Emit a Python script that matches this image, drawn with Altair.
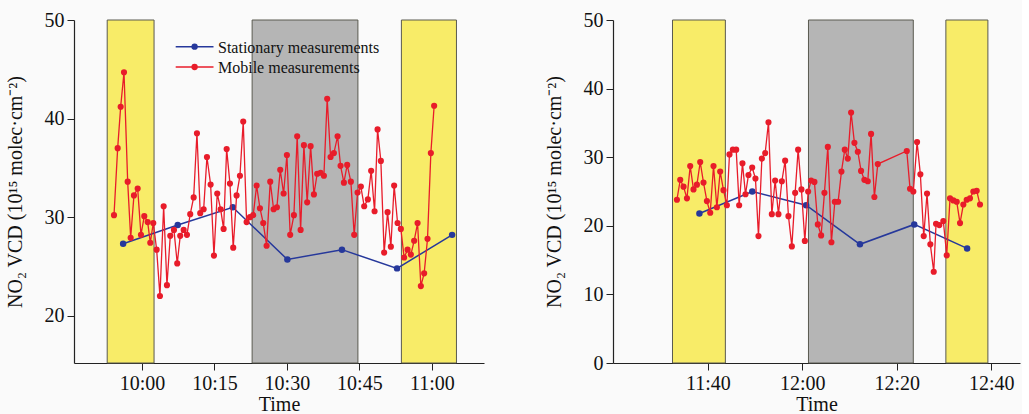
import altair as alt
import pandas as pd

# ---------------- Left panel (times in minutes after 10:00) ----------------
left_mobile_min = [-5.79, -5.03, -4.41, -3.72, -2.96, -2.34, -1.66, -0.89, -0.21, 0.48,
                   1.18, 1.72, 2.34, 3.04, 3.72, 4.49, 5.17, 5.86, 6.62, 7.30,
                   7.92, 8.63, 9.31, 9.99, 10.70, 11.38, 12.06, 12.77, 13.45, 14.21,
                   14.90, 15.58, 16.28, 16.90, 17.53, 18.21, 18.89, 19.59, 20.28, 20.96,
                   21.66, 22.35, 23.03, 23.73, 24.42, 25.10, 25.80, 26.55, 27.25, 27.93,
                   28.62, 29.32, 30.00, 30.68, 31.45, 32.13, 32.84, 33.52, 34.20, 34.91,
                   35.59, 36.27, 36.98, 37.66, 38.34, 39.04, 39.73, 40.49, 41.11, 41.80,
                   42.48, 43.24, 43.93, 44.63, 45.31, 46.00, 46.76, 47.44, 48.15, 48.77,
                   49.45, 50.13, 50.84, 51.52, 52.20, 52.91, 53.59, 54.27, 54.98, 55.66,
                   56.34, 57.05, 57.73, 58.41, 59.11, 59.80, 60.48]
left_mobile_val = [30.2, 37.0, 41.2, 44.7, 33.6, 27.9, 32.2, 32.9, 28.2, 30.1,
                   29.5, 27.4, 29.4, 26.7, 22.0, 31.1, 23.1, 28.1, 28.7, 25.3,
                   28.1, 28.7, 28.2, 30.3, 32.0, 38.5, 30.4, 30.8, 36.1, 33.3,
                   26.1, 32.4, 30.8, 28.8, 36.9, 33.4, 26.9, 32.2, 34.2, 39.7,
                   29.5, 30.0, 30.2, 33.2, 30.9, 29.4, 27.1, 33.6, 30.8, 31.0,
                   34.8, 32.4, 36.3, 28.2, 30.2, 38.2, 28.7, 37.3, 31.5, 37.2,
                   32.3, 34.4, 34.5, 34.2, 42.0, 36.1, 36.5, 38.2, 35.2, 33.5,
                   35.3, 33.6, 28.2, 32.5, 33.1, 31.1, 31.8, 34.7, 30.6, 38.9,
                   35.7, 26.4, 30.5, 27.0, 33.2, 29.4, 28.8, 25.9, 26.7, 26.2,
                   27.6, 29.4, 23.0, 24.3, 27.8, 36.5, 41.3]
left_stat_min = [-3.9, 7.4, 18.8, 30.1, 41.4, 52.8, 64.2]
left_stat_val = [27.3, 29.2, 31.0, 25.7, 26.7, 24.8, 28.2]
left_band_start = [-7.2, 22.8, 53.7]
left_band_end = [2.5, 44.7, 65.1]
left_band_kind = ["yellow", "gray", "yellow"]
left_x_ticks = ["10:00", "10:15", "10:30", "10:45", "11:00"]
left_y_ticks = [20, 30, 40, 50]

# ---------------- Right panel (times in minutes after 11:40) ----------------
right_mobile_min = [-6.56, -5.86, -5.16, -4.44, -3.75, -3.05, -2.33, -1.63, -0.93, -0.21,
                    0.49, 1.19, 1.90, 2.60, 3.30, 4.02, 4.57, 5.29, 5.99, 6.62,
                    7.32, 7.96, 8.59, 9.38, 10.07, 10.71, 11.43, 12.13, 12.83, 13.54,
                    14.24, 14.94, 15.66, 16.36, 17.06, 17.78, 18.48, 19.11, 19.81, 20.53,
                    21.23, 21.86, 22.56, 23.28, 23.98, 24.68, 25.40, 26.16, 26.88, 27.58,
                    28.28, 28.99, 29.63, 30.33, 31.03, 31.75, 32.44, 33.14, 33.86, 34.56,
                    35.26, 35.98, 42.12, 42.81, 43.51, 44.30, 45.00, 45.71, 46.41, 47.11,
                    47.83, 48.32, 49.02, 49.86, 50.58, 51.28, 51.98, 52.70, 53.40, 54.10,
                    54.81, 55.51, 56.22, 56.93, 57.63]
right_mobile_val = [23.8, 26.7, 25.7, 24.0, 28.7, 25.3, 26.0, 29.3, 26.3, 23.6,
                    21.9, 28.7, 22.7, 27.9, 25.2, 23.0, 30.4, 31.1, 31.1, 23.0,
                    29.1, 24.6, 27.4, 28.5, 26.9, 18.5, 29.8, 30.6, 35.1, 21.7,
                    26.6, 21.7, 26.5, 29.5, 21.4, 17.0, 24.8, 31.1, 25.3, 17.8,
                    25.0, 26.6, 26.4, 20.2, 18.6, 24.8, 31.5, 17.6, 23.5, 23.5,
                    27.9, 31.1, 29.8, 36.5, 32.1, 30.8, 28.0, 26.7, 26.5, 33.4,
                    24.2, 29.0, 30.9, 25.4, 25.0, 32.2, 27.5, 18.5, 24.7, 17.3,
                    13.3, 20.3, 20.1, 20.7, 15.7, 24.0, 23.7, 23.5, 20.4, 23.1,
                    23.8, 24.0, 25.0, 25.1, 23.1]
right_stat_min = [-1.8, 9.4, 20.8, 32.2, 43.7, 54.9]
right_stat_val = [21.8, 25.0, 23.0, 17.3, 20.2, 16.7]
right_band_start = [-7.5, 21.3, 50.4]
right_band_end = [3.7, 43.5, 59.3]
right_band_kind = ["yellow", "gray", "yellow"]
right_x_ticks = ["11:40", "12:00", "12:20", "12:40"]
right_y_ticks = [0, 10, 20, 30, 40, 50]

SERIES = ["Stationary measurements", "Mobile measurements"]
BLUE = "#26389b"
RED = "#e81c2a"
FONT = "Liberation Serif"
Y_TITLE = "NO\u2082 VCD (10\u00b9\u2075 molec\u00b7cm\u207b\u00b2)"


def clock(s):
    h, m = s.split(":")
    return int(h) * 60 + int(m)


LABEL_EXPR = ("floor(datum.value / 60) + ':' + (datum.value % 60 < 10 ? '0' : '') "
              "+ (datum.value % 60)")


def legend_layers():
    layers = []
    for i, (name, col) in enumerate(zip(SERIES, [BLUE, RED])):
        ld = pd.DataFrame({"label": [name]})
        yy = 26.7 + 20.3 * i
        base = alt.Chart(ld)
        layers.append(base.mark_rule(color=col, strokeWidth=1.5).encode(
            x=alt.value(101.7), x2=alt.value(139.5), y=alt.value(yy)))
        layers.append(base.mark_point(filled=True, color=col, size=40, opacity=1).encode(
            x=alt.value(120.6), y=alt.value(yy)))
        layers.append(base.mark_text(align="left", baseline="middle", font=FONT,
                                     fontSize=16, color="#111").encode(
            x=alt.value(144), y=alt.value(yy + 1), text="label:N"))
    return layers


def panel(base, mob_t, mob_v, st_t, st_v, bs, be, bk, xdom, xticks, ydom, yticks,
          width, legend):
    mob = pd.DataFrame({"t": [base + m for m in mob_t], "v": mob_v})
    st = pd.DataFrame({"t": [base + m for m in st_t], "v": st_v})
    bands = pd.DataFrame({"s": [base + m for m in bs], "e": [base + m for m in be],
                          "kind": bk, "top": ydom[1], "bottom": ydom[0]})

    xs = alt.Scale(domain=[base + xdom[0], base + xdom[1]], nice=False, zero=False)
    ys = alt.Scale(domain=ydom, nice=False, zero=False)
    xaxis = alt.Axis(values=[clock(t) for t in xticks], labelExpr=LABEL_EXPR,
                     title="Time")
    yaxis = alt.Axis(values=yticks, title=Y_TITLE)

    rect = alt.Chart(bands).mark_rect(stroke="#5a5a50", strokeWidth=1).encode(
        x=alt.X("s:Q", scale=xs, axis=xaxis),
        x2="e:Q",
        y=alt.Y("top:Q", scale=ys, axis=yaxis),
        y2="bottom:Q",
        fill=alt.Fill("kind:N", scale=alt.Scale(domain=["yellow", "gray"],
                                                range=["#f8ec68", "#b5b5b5"]),
                      legend=None),
    )
    x = alt.X("t:Q", scale=xs, axis=xaxis)
    y = alt.Y("v:Q", scale=ys, axis=yaxis)
    st_line = alt.Chart(st).mark_line(strokeWidth=1.5, color=BLUE).encode(x=x, y=y)
    st_pt = alt.Chart(st).mark_point(filled=True, size=42, opacity=1, color=BLUE).encode(
        x=x, y=y)
    mob_line = alt.Chart(mob).mark_line(strokeWidth=1.3, color=RED).encode(x=x, y=y)
    mob_pt = alt.Chart(mob).mark_point(filled=True, size=38, opacity=1, color=RED).encode(
        x=x, y=y)
    layers = [rect, st_line, st_pt, mob_line, mob_pt]
    if legend:
        layers += legend_layers()
    return alt.layer(*layers).properties(width=width, height=343)


left = panel(600, left_mobile_min, left_mobile_val, left_stat_min, left_stat_val,
             left_band_start, left_band_end, left_band_kind, [-14.07, 70.8],
             left_x_ticks, [15.2, 50], left_y_ticks, 410, True)
right = panel(700, right_mobile_min, right_mobile_val, right_stat_min, right_stat_val,
              right_band_start, right_band_end, right_band_kind, [-20.1, 66.1],
              right_x_ticks, [0, 50], right_y_ticks, 407, False)

chart = alt.hconcat(left, right, spacing=60).resolve_scale(
    fill="independent"
).properties(
    background="#fafafa",
    padding={"left": 5, "top": 10, "right": 2, "bottom": 0},
).configure_view(stroke=None).configure_axis(
    grid=False, domainColor="#222", tickColor="#222", tickSize=7, domainWidth=1.2,
    labelFont=FONT, labelFontSize=20, labelColor="#111", labelPadding=3,
    titleFont=FONT, titleFontSize=20, titleFontWeight="normal", titleColor="#111",
).configure_axisY(titlePadding=19).configure_axisX(titlePadding=1)

chart.save("out.html", embed_options={"renderer": "svg", "actions": False})
